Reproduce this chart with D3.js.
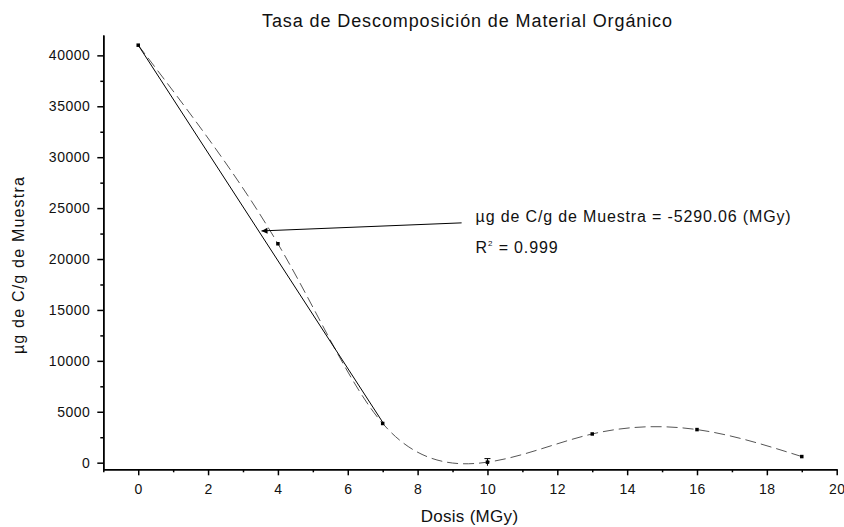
<!DOCTYPE html>
<meta charset="utf-8">
<style>
    body { margin: 0; background: #fff; }
    text { font-family: "Liberation Sans", Arial, sans-serif; fill: #111; }
    .axis path, .axis line { stroke: #000; stroke-width: 1.5px; }
    .axis text { font-size: 14px; letter-spacing: 0.5px; }
</style>
<svg width="844" height="527"></svg>
<script src="https://d3js.org/d3.v7.min.js"></script>
<script>
    // measured points
    var dosis = [0, 4, 7, 10, 13, 16, 19];
    var carbono = [41000, 21500, 3850, 50, 2820, 3250, 600];
    var errBars = [0, 0, 0, 350, 0, 0, 0];

    // linear fit shown as solid line (slope from the equation)
    var fitSlope = -5290.06;
    var fitIntercept = 41000;
    var fitRange = [0, 7];

    var xMajor = [0, 2, 4, 6, 8, 10, 12, 14, 16, 18, 20];
    var xMinor = [-1, 1, 3, 5, 7, 9, 11, 13, 15, 17, 19];
    var yMajor = [0, 5000, 10000, 15000, 20000, 25000, 30000, 35000, 40000];
    var yMinor = [2500, 7500, 12500, 17500, 22500, 27500, 32500, 37500];

    // arrow annotation: [from, to] in data units
    var arrowFrom = [9.26, 23550];
    var arrowTo = [3.53, 22760];

    var svg = d3.select("svg"),
        margin = {top: 35, right: 7.3, bottom: 57.7, left: 103.3},
        width = +svg.attr("width") - margin.left - margin.right,
        height = +svg.attr("height") - margin.top - margin.bottom;

    var x = d3.scaleLinear().domain([-1, 20]).range([0, width]);
    var y = d3.scaleLinear().domain([-650, 42000]).range([height, 0]);

    var g = svg.append("g").attr("transform", "translate(" + margin.left + "," + margin.top + ")");

    svg.append("defs").append("marker")
        .attr("id", "arrow")
        .attr("viewBox", "0 0 10 10")
        .attr("refX", 10).attr("refY", 5)
        .attr("markerWidth", 11).attr("markerHeight", 6)
        .attr("markerUnits", "userSpaceOnUse")
        .attr("orient", "auto")
        .append("path")
        .attr("d", "M0,0L10,5L0,10z")
        .attr("fill", "#000");

    // axes
    g.append("g").attr("class", "axis")
        .attr("transform", "translate(0," + height + ")")
        .call(d3.axisBottom(x).tickValues(xMajor).tickSize(6).tickSizeOuter(0).tickPadding(9))
        .call(function(a) { a.selectAll("text").attr("dy", "0.71em"); });
    g.append("g").attr("class", "axis")
        .attr("transform", "translate(0," + height + ")")
        .call(d3.axisBottom(x).tickValues(xMinor).tickSize(3).tickSizeOuter(0).tickFormat(""));

    g.append("g").attr("class", "axis")
        .call(d3.axisLeft(y).tickValues(yMajor).tickSize(6).tickSizeOuter(0).tickPadding(7).tickFormat(d3.format("d")));
    g.append("g").attr("class", "axis")
        .call(d3.axisLeft(y).tickValues(yMinor).tickSize(3).tickSizeOuter(0).tickFormat(""));

    // spline through points
    var pts = dosis.map(function(d, i) { return [d, carbono[i]]; });
    var line = d3.line()
        .x(function(d) { return x(d[0]); })
        .y(function(d) { return y(d[1]); })
        .curve(d3.curveNatural);

    g.append("path")
        .datum(pts)
        .attr("d", line)
        .attr("fill", "none")
        .attr("stroke", "#555")
        .attr("stroke-width", 1)
        .attr("stroke-dasharray", "11,5");

    // fit line
    g.append("path")
        .datum(fitRange.map(function(d) { return [d, fitIntercept + fitSlope * d]; }))
        .attr("d", d3.line().x(function(d) { return x(d[0]); }).y(function(d) { return y(d[1]); }))
        .attr("fill", "none")
        .attr("stroke", "#000")
        .attr("stroke-width", 1);

    // error bars
    var eb = g.append("g").selectAll("g")
        .data(pts.filter(function(d, i) { return errBars[i] > 0; }).map(function(d) {
            return {x: d[0], y: d[1], e: errBars[dosis.indexOf(d[0])]};
        }))
        .enter().append("g")
        .attr("stroke", "#000").attr("stroke-width", 1);
    eb.append("line")
        .attr("x1", function(d) { return x(d.x); }).attr("x2", function(d) { return x(d.x); })
        .attr("y1", function(d) { return y(d.y - d.e); }).attr("y2", function(d) { return y(d.y + d.e); });
    eb.append("line")
        .attr("x1", function(d) { return x(d.x) - 3; }).attr("x2", function(d) { return x(d.x) + 3; })
        .attr("y1", function(d) { return y(d.y + d.e); }).attr("y2", function(d) { return y(d.y + d.e); });

    // markers
    g.append("g").selectAll("rect")
        .data(pts)
        .enter().append("rect")
        .attr("x", function(d) { return x(d[0]) - 1.75; })
        .attr("y", function(d) { return y(d[1]) - 1.75; })
        .attr("width", 3.5).attr("height", 3.5)
        .attr("fill", "#000");

    // annotation arrow
    g.append("line")
        .attr("x1", x(arrowFrom[0])).attr("y1", y(arrowFrom[1]))
        .attr("x2", x(arrowTo[0])).attr("y2", y(arrowTo[1]))
        .attr("stroke", "#000").attr("stroke-width", 1)
        .attr("marker-end", "url(#arrow)");

    var ann = g.append("text")
        .attr("x", x(arrowFrom[0]) + 14)
        .attr("y", y(arrowFrom[1]) - 1)
        .style("font-size", "16px")
        .style("letter-spacing", "0.85px")
        .text("\u00b5g de C/g de Muestra = -5290.06 (MGy)");
    var r2 = g.append("text")
        .attr("x", x(arrowFrom[0]) + 14)
        .attr("y", y(arrowFrom[1]) + 30)
        .style("font-size", "16px")
        .style("letter-spacing", "0.85px");
    r2.append("tspan").text("R");
    r2.append("tspan").attr("dy", -7).style("font-size", "8px").text("2");
    r2.append("tspan").attr("dy", 7).text(" = 0.999");

    // titles
    svg.append("text")
        .attr("x", 467.5)
        .attr("y", 27)
        .attr("text-anchor", "middle")
        .style("font-size", "18px")
        .style("letter-spacing", "0.9px")
        .text("Tasa de Descomposici\u00f3n de Material Org\u00e1nico");

    svg.append("text")
        .attr("x", 469.5)
        .attr("y", 522)
        .attr("text-anchor", "middle")
        .style("font-size", "17px")
        .style("letter-spacing", "0.3px")
        .text("Dosis (MGy)");

    svg.append("text")
        .attr("transform", "translate(24,265) rotate(-90)")
        .attr("text-anchor", "middle")
        .style("font-size", "16px")
        .style("letter-spacing", "1.2px")
        .text("\u00b5g de C/g de Muestra");
</script>
